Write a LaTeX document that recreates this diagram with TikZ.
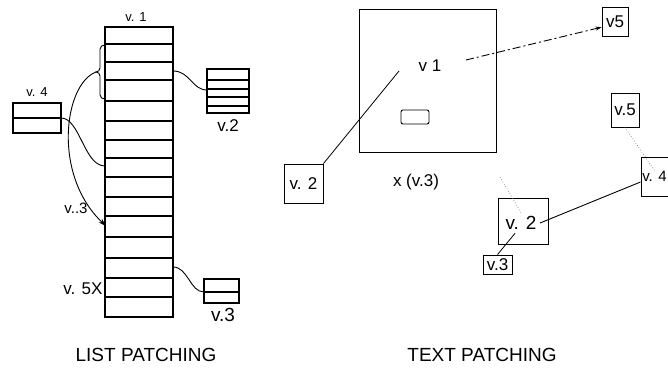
\documentclass[tikz,border=0pt]{standalone}
\usepackage{fontspec}
\setmainfont{Liberation Sans}
\usetikzlibrary{arrows.meta}

\begin{document}
\begin{tikzpicture}[x=1pt,y=-1pt,
  sml/.style={font=\fontsize{13}{13}\selectfont},
  lbl/.style={font=\fontsize{17}{17}\selectfont},
  big/.style={font=\fontsize{19}{19}\selectfont},
  capt/.style={font=\fontsize{19}{19}\selectfont},
  box/.style={draw,line width=0.9pt,inner sep=0pt},
  thk/.style={line width=1.4pt},
  faint/.style={gray,dotted,line width=0.7pt}]
  \useasboundingbox (0,0) rectangle (668,371);
  \draw[thk] (105,27) rectangle (173,317);
  \foreach \y in {44,62,80,101,121,140,158,177,197,216,237,258,278,297}
    \draw[thk] (105,\y) -- (173,\y);
  \draw[thk] (13,103) rectangle (61,133);
  \draw[thk] (13,118) -- (61,118);
  \draw[thk] (207,69) rectangle (249,113);
  \foreach \y in {80,89,97,106}
    \draw[thk] (207,\y) -- (249,\y);
  \draw[thk] (204,279) rectangle (239,303);
  \draw[thk] (204,292) -- (239,292);
  \coordinate (brtip) at (96,72);
  \coordinate (colarr) at (106,226);
  \coordinate (vfourout) at (61,118);
  \coordinate (colin) at (105,166);
  \coordinate (colvtwo) at (173,71);
  \coordinate (vtwoin) at (207,90);
  \coordinate (colvthree) at (173,267);
  \coordinate (vthreein) at (204,292);
  \draw[line width=0.9pt] (105,45) to[out=180,in=90] (100,49) -- (100,68)
    to[out=-90,in=0] (brtip) to[out=0,in=90] (100,76) -- (100,95)
    to[out=-90,in=180] (105,99);
  \draw[line width=0.9pt,-{Stealth[length=8pt,width=5pt]}] (brtip)
    .. controls (64,84) and (52,175) .. (colarr);
  \draw[line width=0.9pt] (vfourout) .. controls (80,118) and (84,166) .. (colin);
  \draw[line width=0.9pt] (colvtwo) .. controls (190,71) and (192,90) .. (vtwoin);
  \draw[line width=0.9pt] (colvthree) .. controls (188,267) and (190,292) .. (vthreein);
  \draw (136,17) node[sml] (lvone) {v. 1};
  \draw (37,92) node[sml] (lvfour) {v. 4};
  \draw (228,126) node[lbl] (lvtwo) {v.2};
  \draw (223,315) node[big] (lvthree) {v.3};
  \draw (83,289) node[lbl] (lvfivex) {v. 5X};
  \draw (76,208) node[font=\fontsize{15}{15}\selectfont] (lvdotthree) {v..3};
  \draw (146,355) node[capt] (listcap) {LIST PATCHING};

  \draw[line width=0.9pt] (359,9) rectangle (496,152);
  \draw[line width=0.9pt,rounded corners=2pt] (401,110) rectangle (429,124);
  \draw (430,66) node[lbl] (vone) {v 1};
  \draw (416,182) node[lbl] (xvthree) {x (v.3)};
  \node[box,lbl,minimum width=39pt,minimum height=39pt] (vtwol) at (303.5,183.5) {v. 2};
  \node[box,lbl,minimum width=26pt,minimum height=29pt] (vfivea) at (615,21.5) {v5};
  \node[box,lbl,minimum width=28pt,minimum height=34pt] (vfiveb) at (625,110) {v.5};
  \node[box,minimum width=40pt,minimum height=39pt] (vfourr) at (661,176.5) {};
  \draw (667,176) node[anchor=east,inner sep=0pt,font=\fontsize{15}{15}\selectfont] (vfour) {v. 4};
  \node[box,minimum width=50pt,minimum height=46pt] (vtwobox) at (523,221) {};
  \draw (521,223) node[big] (vtwo) {v. 2};
  \node[box,lbl,minimum width=29pt,minimum height=19pt] (vthreer) at (497.5,264.5) {v.3};
  \coordinate (vonein) at (399,71);
  \coordinate (vonedash) at (466,60);
  \coordinate (faintstart) at (500,177);
  \draw[line width=0.8pt] (vtwol.north east) -- (vonein);
  \draw[line width=0.9pt,dash pattern=on 8pt off 3pt on 2pt off 3pt,
    -{Stealth[length=6pt,width=4pt]}] (vonedash) -- (vfivea.203);
  \draw[line width=0.9pt] (vtwo.east) -- (vfourr.195);
  \draw[line width=0.8pt] (vthreer.north) -- (vtwo.240);
  \draw[faint] (faintstart) -- (vtwo.north);
  \draw[faint] (vfiveb.south) -- (vfour.north);
  \draw (482,355) node[capt] (textcap) {TEXT PATCHING};
\end{tikzpicture}
\end{document}
